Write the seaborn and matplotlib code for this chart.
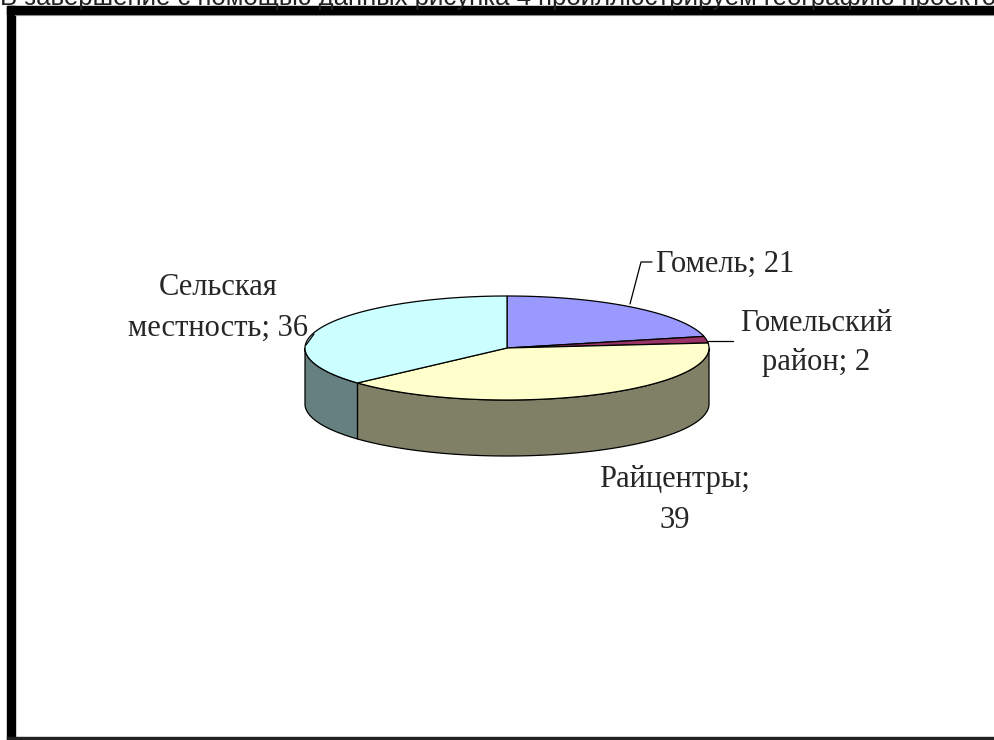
import numpy as np
import matplotlib
matplotlib.use("Agg")
import matplotlib.pyplot as plt
from matplotlib.patches import Polygon, Rectangle
import seaborn as sns

# ---- data ----
categories = ["Гомель", "Гомельский район", "Райцентры", "Сельская местность"]
values = [21, 2, 39, 36]
label_texts = ["Гомель; 21", "Гомельский\nрайон; 2", "Райцентры;\n39", "Сельская\nместность; 36"]
top_colors = ["#9999FF", "#993366", "#FFFFCC", "#CCFFFF"]
caption = "В завершение с помощью данных рисунка 4 проиллюстрируем географию проектов"

sns.set_theme(style="white")
plt.rcParams["font.family"] = ["Liberation Serif", "DejaVu Serif"]

fig = plt.figure(figsize=(9.94, 7.40), dpi=100)
fig.patch.set_facecolor("white")
ax = fig.add_axes([0, 0, 1, 1])
ax.set_xlim(0, 994)
ax.set_ylim(740, 0)
ax.axis("off")

# frame
ax.add_patch(Rectangle((7, 6), 990, 8, color="black", zorder=5))
ax.add_patch(Rectangle((7, 6), 8, 740, color="black", zorder=5))
ax.add_patch(Rectangle((7, 736.5), 990, 3, color="#222222", zorder=5))
ax.plot([15, 994], [15, 15], color="#888888", lw=0.8, zorder=5)

# caption partly cut by top of page (as in the source screenshot)
ax.text(0, 5, caption, fontsize=18.5, family=["Liberation Sans", "DejaVu Sans"],
        color="#222222", va="baseline", ha="left", zorder=6)

# ---- 3D pie geometry ----
cx, cy, rx, ry, depth = 507, 348, 202, 52, 56
shade = [tuple(0.5 * c for c in sns.color_palette([col])[0]) for col in top_colors]

total = float(sum(values))
bounds = 90 - np.concatenate([[0], np.cumsum(values)]) / total * 360.0


def pt(theta_deg, dy=0.0):
    t = np.deg2rad(theta_deg)
    return cx + rx * np.cos(t), cy - ry * np.sin(t) + dy


# side walls (front half: theta in [-180, 0])
for i in range(len(values)):
    a0, a1 = bounds[i], bounds[i + 1]  # a0 > a1
    lo, hi = max(a1, -180), min(a0, 0)
    if lo >= hi:
        continue
    th = np.linspace(hi, lo, 120)
    top = [pt(t) for t in th]
    bot = [pt(t, depth) for t in th[::-1]]
    ax.add_patch(Polygon(top + bot, closed=True, facecolor=shade[i],
                         edgecolor="black", lw=0.9, zorder=2))

# top faces
for i in range(len(values)):
    a0, a1 = bounds[i], bounds[i + 1]
    th = np.linspace(a0, a1, 200)
    poly = [(cx, cy)] + [pt(t) for t in th]
    ax.add_patch(Polygon(poly, closed=True, facecolor=top_colors[i],
                         edgecolor="black", lw=0.9, zorder=3))

# ---- labels ----
fs = 22
ax.text(656, 264, label_texts[0], fontsize=fs, ha="left", va="center", zorder=6)
ax.plot([630, 641, 652], [304, 262, 262], color="black", lw=0.9, zorder=6)

ax.text(816, 343, label_texts[1], fontsize=fs, ha="center", va="center",
        linespacing=1.42, zorder=6)
ax.plot([708, 733], [341, 341], color="black", lw=0.9, zorder=6)

ax.text(675, 500, label_texts[2], fontsize=fs, ha="center", va="center",
        linespacing=1.54, zorder=6)

ax.text(218, 308, label_texts[3], fontsize=fs, ha="center", va="center",
        linespacing=1.54, zorder=6)
ax.plot([314, 306], [334, 345], color="black", lw=0.9, zorder=6)

fig.savefig("out.png", dpi=100, facecolor="white")
